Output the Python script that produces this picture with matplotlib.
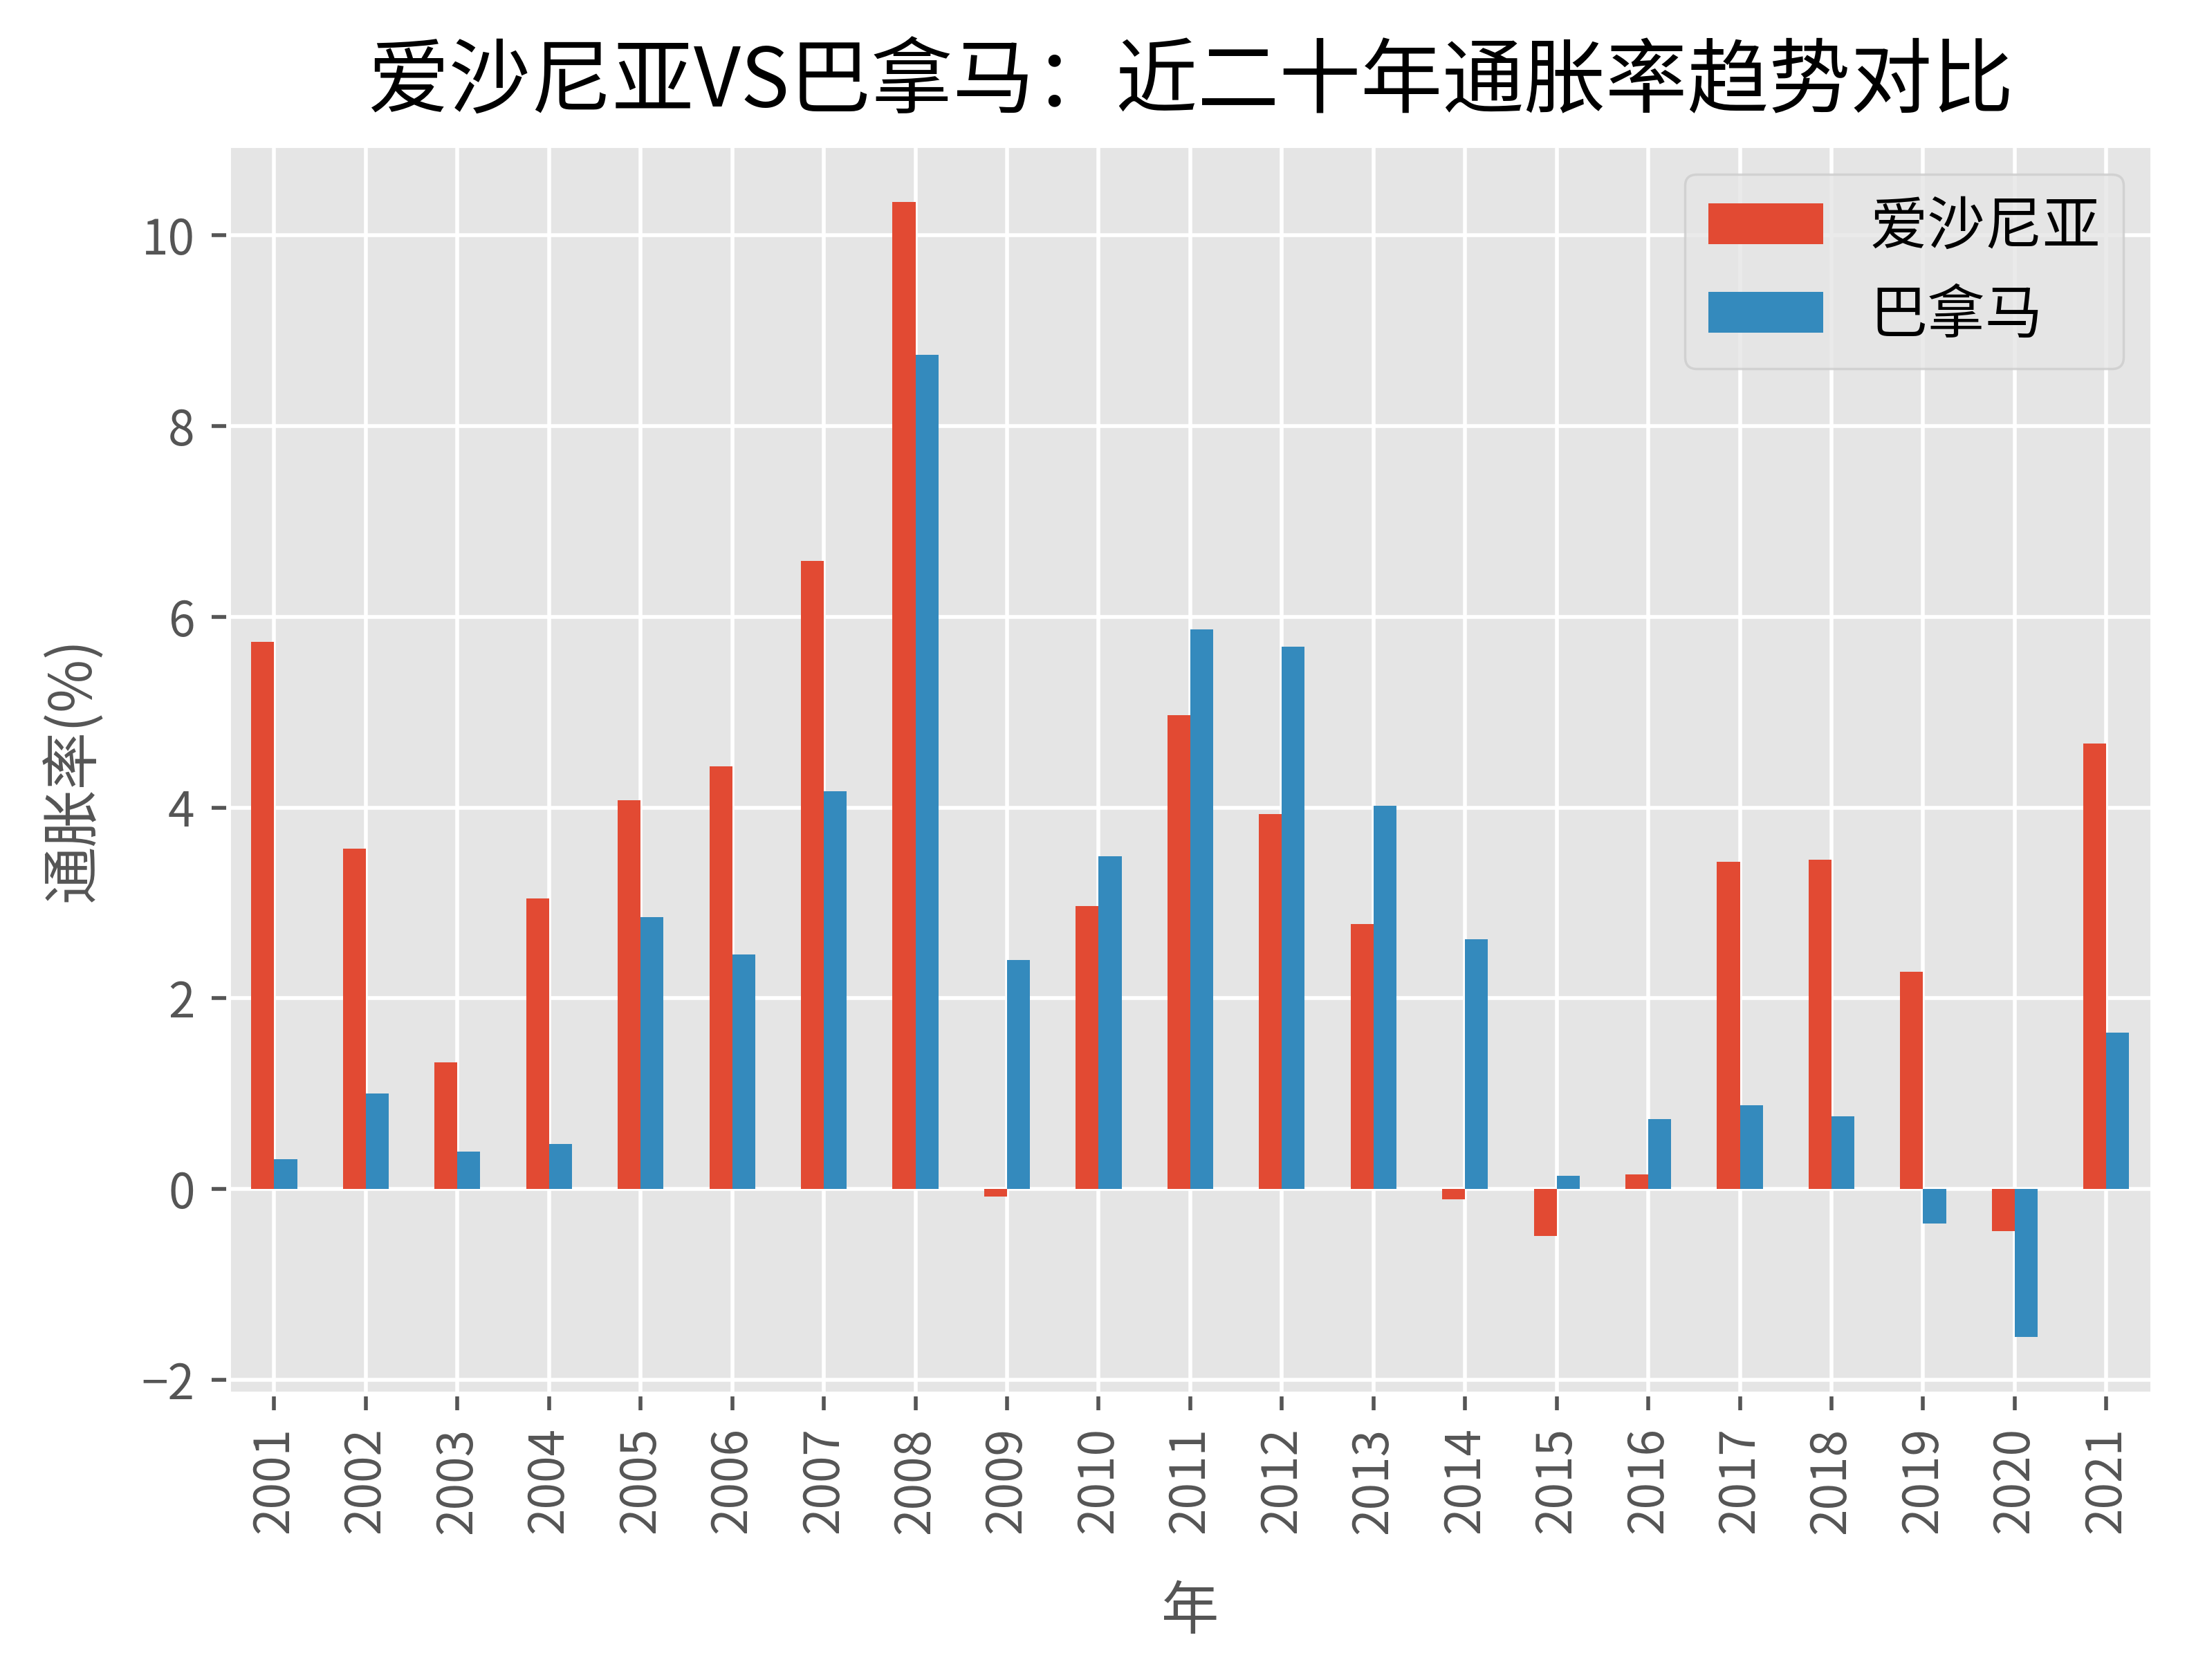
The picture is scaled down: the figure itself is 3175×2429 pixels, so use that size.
import pandas as pd
import matplotlib
matplotlib.use('Agg')
import matplotlib.pyplot as plt

plt.style.use('ggplot')
plt.rcParams['font.family'] = ['Noto Sans CJK SC', 'DejaVu Sans']
plt.rcParams['axes.unicode_minus'] = True

years = [str(y) for y in range(2001, 2022)]
estonia = [5.74, 3.57, 1.33, 3.05, 4.08, 4.43, 6.59, 10.35, -0.08, 2.97, 4.97,
           3.93, 2.78, -0.11, -0.49, 0.15, 3.43, 3.45, 2.28, -0.44, 4.67]
panama = [0.31, 1.00, 0.39, 0.47, 2.85, 2.46, 4.17, 8.75, 2.40, 3.49, 5.87,
          5.69, 4.02, 2.62, 0.14, 0.73, 0.88, 0.76, -0.36, -1.55, 1.64]

df = pd.DataFrame({'爱沙尼亚': estonia, '巴拿马': panama}, index=years)

fig = plt.figure(figsize=(6.35, 4.858), dpi=500)
ax = fig.add_axes([0.104, 0.1705, 0.876, 0.743])
df.plot(kind='bar', ax=ax)

ax.set_title('爱沙尼亚VS巴拿马：近二十年通胀率趋势对比', fontsize=17, color='black', pad=8)
ax.set_xlabel('年', fontsize=12, labelpad=10)
ax.set_ylabel('通胀率(%)', fontsize=12, labelpad=8)
ax.legend(fontsize=12, loc='upper right')

fig.savefig('out.png', dpi=500)
